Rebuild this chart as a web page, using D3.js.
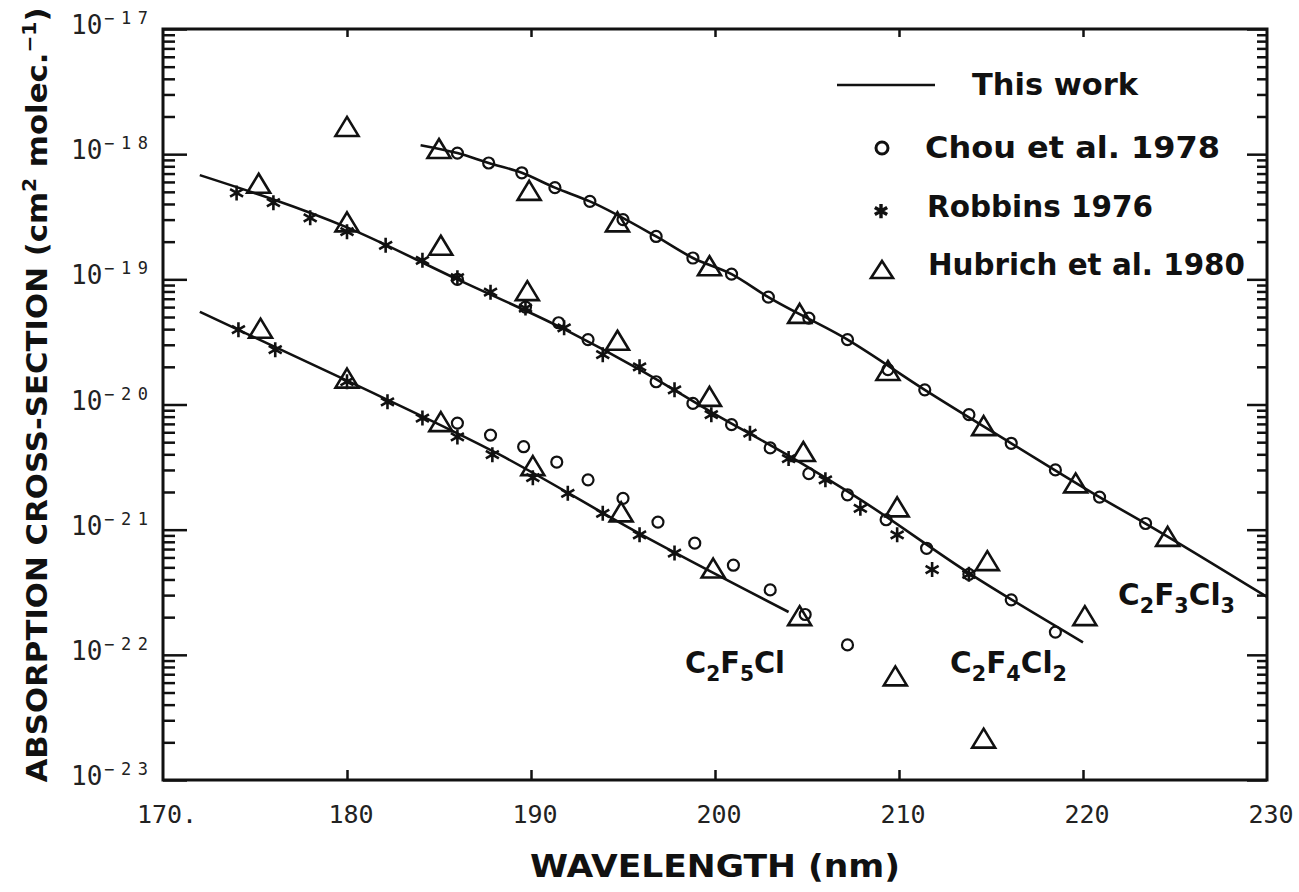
<!DOCTYPE html>
<html><head><meta charset="utf-8">
<script src="https://cdn.jsdelivr.net/npm/d3@7"></script>
<style>body{margin:0;background:#fff}</style>
</head><body><svg id="c" width="1299" height="892"></svg>
<script>
// ---------- axis data ----------
const xTickValues = [170,180,190,200,210,220,230];
const xTickLabels = ["170.","180","190","200","210","220","230"];
const yDecadeExponents = [-23,-22,-21,-20,-19,-18,-17];
const yTickLabelExp = ["\u221223","\u221222","\u221221","\u221220","\u221219","\u221218","\u221217"];

// ---------- "This work" curves ----------
const lineC2F3Cl3_wl  = [184.0,186.0,187.7,189.5,191.3,193.2,196.8,198.8,200.9,202.9,207.2,211.4,216.1,220.9,223.4,230.0];
const lineC2F3Cl3_val = [1.18e-18,1.02e-18,8.5e-19,7.1e-19,5.4e-19,4.2e-19,2.2e-19,1.48e-19,1.10e-19,7.2e-20,3.3e-20,1.31e-20,4.9e-21,1.82e-21,1.12e-21,2.9e-22];
const lineC2F4Cl2_wl  = [172.0,180.0,186.0,191.8,195.9,199.8,204.0,207.9,213.8,220.0];
const lineC2F4Cl2_val = [6.8e-19,2.6e-19,1.0e-19,4.0e-20,1.9e-20,8.7e-21,3.9e-21,1.74e-21,4.5e-22,1.26e-22];
const lineC2F5Cl_wl   = [172.0,180.0,188.3,195.9,204.0];
const lineC2F5Cl_val  = [5.5e-20,1.55e-20,3.97e-21,9.3e-22,2.2e-22];

// ---------- Chou et al. 1978 (circles) ----------
const chouC2F3Cl3_wl  = [186.0,187.7,189.5,191.3,193.2,195.0,196.8,198.8,200.9,202.9,205.1,207.2,209.4,211.4,213.8,216.1,218.5,220.9,223.4];
const chouC2F3Cl3_val = [1.02e-18,8.5e-19,7.1e-19,5.4e-19,4.2e-19,3.0e-19,2.2e-19,1.48e-19,1.10e-19,7.2e-20,4.9e-20,3.3e-20,1.9e-20,1.31e-20,8.3e-21,4.9e-21,3.0e-21,1.82e-21,1.12e-21];
const chouC2F4Cl2_wl  = [186.0,189.7,191.5,193.1,196.8,198.8,200.9,203.0,205.1,207.2,209.3,211.5,213.8,216.1,218.5];
const chouC2F4Cl2_val = [1.0e-19,6.0e-20,4.5e-20,3.3e-20,1.52e-20,1.02e-20,6.9e-21,4.5e-21,2.8e-21,1.9e-21,1.2e-21,7.1e-22,4.4e-22,2.75e-22,1.52e-22];
const chouC2F5Cl_wl   = [186.0,187.8,189.6,191.4,193.1,195.0,196.9,198.9,201.0,203.0,204.9,207.2];
const chouC2F5Cl_val  = [7.1e-21,5.7e-21,4.6e-21,3.47e-21,2.5e-21,1.78e-21,1.15e-21,7.8e-22,5.2e-22,3.3e-22,2.1e-22,1.2e-22];

// ---------- Robbins 1976 (asterisks) ----------
const robC2F4Cl2_wl  = [174.0,176.0,178.0,180.0,182.1,184.1,186.0,187.8,189.7,191.8,193.9,195.9,197.8,199.8,201.9,204.0,206.0,207.9,209.9,211.8,213.8];
const robC2F4Cl2_val = [4.9e-19,4.1e-19,3.1e-19,2.4e-19,1.87e-19,1.42e-19,1.03e-19,7.9e-20,5.9e-20,4.1e-20,2.5e-20,2.0e-20,1.31e-20,8.3e-21,5.9e-21,3.7e-21,2.5e-21,1.48e-21,9.1e-22,4.8e-22,4.4e-22];
const robC2F5Cl_wl   = [174.1,176.1,180.0,182.2,184.1,186.0,187.9,190.1,192.0,193.9,195.9,197.8];
const robC2F5Cl_val  = [3.96e-20,2.74e-20,1.52e-20,1.05e-20,7.8e-21,5.5e-21,3.97e-21,2.6e-21,1.95e-21,1.35e-21,9.1e-22,6.5e-22];

// ---------- Hubrich et al. 1980 (triangles) ----------
const hubC2F3Cl3_wl  = [185.0,189.9,194.7,199.7,204.6,209.4,214.6,219.6,224.6];
const hubC2F3Cl3_val = [1.08e-18,5.0e-19,2.8e-19,1.25e-19,5.2e-20,1.82e-20,6.6e-21,2.3e-21,8.6e-22];
const hubC2F4Cl2_wl  = [175.2,180.0,185.1,189.8,194.7,199.7,204.8,209.9,214.8,220.1];
const hubC2F4Cl2_val = [5.7e-19,2.8e-19,1.82e-19,7.9e-20,3.17e-20,1.13e-20,4.1e-21,1.48e-21,5.5e-22,2.0e-22];
const hubC2F5Cl_wl   = [175.3,180.0,185.1,190.1,194.9,199.9,204.6];
const hubC2F5Cl_val  = [3.96e-20,1.58e-20,7.1e-21,3.16e-21,1.35e-21,4.8e-22,2.0e-22];
const hubOutlier_wl  = [180.0,209.8,214.6];
const hubOutlier_val = [1.62e-18,6.6e-23,2.1e-23];

// ---------- legend ----------
const legendLabels = ["This work","Chou et al. 1978","Robbins 1976","Hubrich et al. 1980"];

// ---------- drawing ----------
const svg = d3.select("#c");
const L = 163, R = 1267, T = 29, B = 780;
const x = d3.scaleLinear().domain([170,230]).range([L,R]);
const y = d3.scaleLog().domain([1e-23,1e-17]).range([B,T]);
const zip = (a,b) => a.map((v,i)=>[v,b[i]]);
const ink = "#111";

const g = svg.append("g");

// minor/major log ticks on left and right
const minorVals = [];
yDecadeExponents.slice(0,-1).forEach(e => { for (let k=2;k<=9;k++) minorVals.push(k*Math.pow(10,e)); });
const majorVals = yDecadeExponents.map(e=>Math.pow(10,e));

g.append("g").attr("transform",`translate(${L},0)`)
  .call(d3.axisRight(y).tickValues(minorVals).tickSize(12).tickFormat(""))
  .call(a=>a.select(".domain").remove());
g.append("g").attr("transform",`translate(${L},0)`)
  .call(d3.axisRight(y).tickValues(majorVals).tickSize(24).tickFormat(""))
  .call(a=>a.select(".domain").remove());
g.append("g").attr("transform",`translate(${R},0)`)
  .call(d3.axisLeft(y).tickValues(minorVals).tickSize(10).tickFormat(""))
  .call(a=>a.select(".domain").remove());
g.append("g").attr("transform",`translate(${R},0)`)
  .call(d3.axisLeft(y).tickValues(majorVals).tickSize(20).tickFormat(""))
  .call(a=>a.select(".domain").remove());
// x ticks bottom (inward) and top (inward)
g.append("g").attr("transform",`translate(0,${B})`)
  .call(d3.axisTop(x).tickValues(xTickValues.slice(1,-1)).tickSize(10).tickFormat(""))
  .call(a=>a.select(".domain").remove());
g.append("g").attr("transform",`translate(0,${T})`)
  .call(d3.axisBottom(x).tickValues(xTickValues.slice(1,-1)).tickSize(8).tickFormat(""))
  .call(a=>a.select(".domain").remove());
g.selectAll(".tick line").attr("stroke",ink).attr("stroke-width",2.5);

// frame
g.append("rect").attr("x",L).attr("y",T).attr("width",R-L).attr("height",B-T)
  .attr("fill","none").attr("stroke",ink).attr("stroke-width",3);

// x tick labels
g.selectAll(".xl").data(xTickValues).enter().append("text")
  .attr("x",d=>x(d)+4).attr("y",B+43)
  .attr("text-anchor","middle")
  .style("font-family","'DejaVu Sans Mono', monospace").style("font-size","25px")
  .attr("fill","#222")
  .text((d,i)=>xTickLabels[i]);

// y tick labels
yDecadeExponents.forEach((e,i)=>{
  const yy = y(Math.pow(10,e));
  g.append("text").attr("x",71).attr("y",yy+5)
    .style("font-family","'DejaVu Sans Mono', monospace").style("font-size","26px")
    .attr("fill","#222").text("10");
  g.append("text").attr("x",104).attr("y",yy-5)
    .style("font-family","'DejaVu Sans Mono', monospace").style("font-size","17px")
    .attr("fill","#222").attr("textLength",44).attr("lengthAdjust","spacing")
    .text(yTickLabelExp[i]);
});

// axis titles
g.append("text").attr("x",715).attr("y",877).attr("text-anchor","middle")
  .style("font-family","'DejaVu Sans', sans-serif").style("font-size","32px").style("font-weight","bold")
  .attr("fill",ink).attr("textLength",370).attr("lengthAdjust","spacingAndGlyphs")
  .text("WAVELENGTH (nm)");
const yt = g.append("text").attr("transform","translate(47,395) rotate(-90)").attr("text-anchor","middle")
  .style("font-family","'DejaVu Sans', sans-serif").style("font-size","29px").style("font-weight","bold")
  .attr("fill",ink).attr("textLength",775).attr("lengthAdjust","spacingAndGlyphs");
yt.append("tspan").text("ABSORPTION CROSS-SECTION (cm");
yt.append("tspan").attr("dy",-11).style("font-size","19px").text("2");
yt.append("tspan").attr("dy",11).text(" molec.");
yt.append("tspan").attr("dy",-11).style("font-size","19px").text("\u22121");
yt.append("tspan").attr("dy",11).text(")");

// curves
const line = d3.line().x(d=>x(d[0])).y(d=>y(d[1])).curve(d3.curveMonotoneX);
[[lineC2F3Cl3_wl,lineC2F3Cl3_val],[lineC2F4Cl2_wl,lineC2F4Cl2_val],[lineC2F5Cl_wl,lineC2F5Cl_val]].forEach(([a,b])=>{
  g.append("path").datum(zip(a,b)).attr("d",line)
    .attr("fill","none").attr("stroke",ink).attr("stroke-width",2.6);
});

// marker helpers
function drawCircles(data){
  g.append("g").selectAll("circle").data(data).enter().append("circle")
    .attr("cx",d=>x(d[0])).attr("cy",d=>y(d[1])).attr("r",5.5)
    .attr("fill","none").attr("stroke",ink).attr("stroke-width",2.2);
}
const astPath = (()=>{const r=7.5, p=d3.path();
  [90,30,150].forEach(a=>{const t=a*Math.PI/180; p.moveTo(-r*Math.cos(t),-r*Math.sin(t)); p.lineTo(r*Math.cos(t),r*Math.sin(t));});
  return p.toString();})();
function drawAsterisks(data, sc=1){
  g.append("g").selectAll("path").data(data).enter().append("path")
    .attr("d",astPath).attr("transform",d=>`translate(${x(d[0])},${y(d[1])}) scale(${sc})`)
    .attr("fill","none").attr("stroke",ink).attr("stroke-width",2.6);
}
const triPath = "M0,-11L11.5,8L-11.5,8Z";
function drawTriangles(data){
  g.append("g").selectAll("path").data(data).enter().append("path")
    .attr("d",triPath).attr("transform",d=>`translate(${x(d[0])},${y(d[1])})`)
    .attr("fill","none").attr("stroke",ink).attr("stroke-width",2.6).attr("stroke-linejoin","miter");
}

drawCircles(zip(chouC2F3Cl3_wl,chouC2F3Cl3_val));
drawCircles(zip(chouC2F4Cl2_wl,chouC2F4Cl2_val));
drawCircles(zip(chouC2F5Cl_wl,chouC2F5Cl_val));
drawAsterisks(zip(robC2F4Cl2_wl,robC2F4Cl2_val));
drawAsterisks(zip(robC2F5Cl_wl,robC2F5Cl_val));
drawTriangles(zip(hubC2F3Cl3_wl,hubC2F3Cl3_val));
drawTriangles(zip(hubC2F4Cl2_wl,hubC2F4Cl2_val));
drawTriangles(zip(hubC2F5Cl_wl,hubC2F5Cl_val));
drawTriangles(zip(hubOutlier_wl,hubOutlier_val));

// compound labels
function chem(px,py,parts,len){
  const t = g.append("text").attr("x",px).attr("y",py)
    .style("font-family","'DejaVu Sans', sans-serif").style("font-size","30px").style("font-weight","bold")
    .attr("fill",ink);
  let sub=false;
  parts.forEach(p=>{
    const isSub = /^[0-9]$/.test(p);
    const ts = t.append("tspan").text(p);
    if(isSub && !sub){ ts.attr("dy",8).style("font-size","21px"); sub=true; }
    else if(!isSub && sub){ ts.attr("dy",-8); sub=false; }
    else if(isSub){ ts.style("font-size","21px"); }
  });
  if(len) t.attr("textLength",len).attr("lengthAdjust","spacingAndGlyphs");
}
chem(685,673,["C","2","F","5","Cl"],100);
chem(950,673,["C","2","F","4","Cl","2"],117);
chem(1118,605,["C","2","F","3","Cl","3"],117);

// legend
const lg = g.append("g");
lg.append("line").attr("x1",837).attr("x2",935).attr("y1",85).attr("y2",85)
  .attr("stroke",ink).attr("stroke-width",2.6);
lg.append("circle").attr("cx",882).attr("cy",148).attr("r",6).attr("fill","none").attr("stroke",ink).attr("stroke-width",3);
lg.append("path").attr("d",astPath).attr("transform","translate(881,211) scale(0.95)")
  .attr("fill","none").attr("stroke",ink).attr("stroke-width",3.6);
lg.append("path").attr("d","M0,-9L11,8L-11,8Z").attr("transform","translate(882,270)")
  .attr("fill","none").attr("stroke",ink).attr("stroke-width",2.6);
const legPos = [[972,95,166],[925,158,295],[927,217,226],[928,275,317]];
legendLabels.forEach((s,i)=>{
  lg.append("text").attr("x",legPos[i][0]).attr("y",legPos[i][1])
    .style("font-family","'DejaVu Sans', sans-serif").style("font-size","30px").style("font-weight","bold")
    .attr("fill",ink).attr("textLength",legPos[i][2]).attr("lengthAdjust","spacingAndGlyphs").text(s);
});
</script></body></html>
